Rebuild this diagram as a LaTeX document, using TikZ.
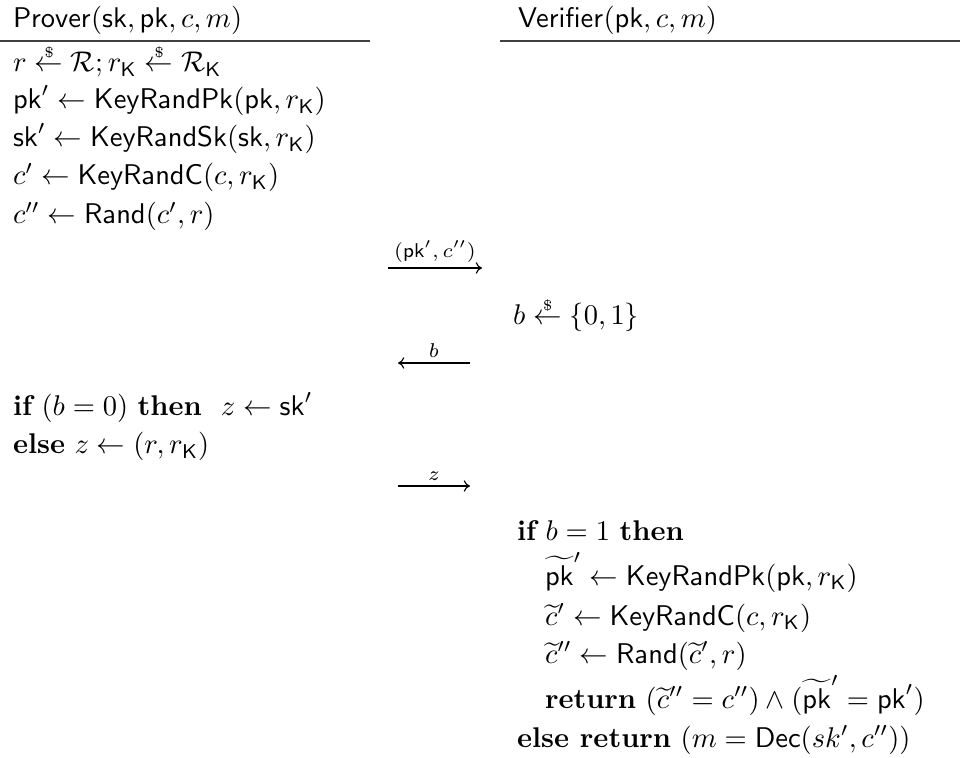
\documentclass[tikz,border=0pt]{standalone}
\usepackage{amsmath,amssymb}
\usetikzlibrary{arrows.meta}
\newcommand{\msf}[1]{\mathsf{#1}}
\newcommand{\smp}{\mathrel{\rlap{\hspace{3.4pt}\raisebox{5.2pt}{$\scriptscriptstyle\$$}}{\leftarrow}}}
\begin{document}
\begin{tikzpicture}[x=0.3509pt,y=-0.3509pt,
  txt/.style={anchor=base west,inner sep=0pt,outer sep=0pt},
  rule/.style={line width=0.5pt,draw=black!75},
  msg/.style={line width=0.4pt,-{To[length=2.2pt,width=4pt]}},
  lbl/.style={above,inner sep=1.8pt,font=\scriptsize}]
\useasboundingbox (0,0) rectangle (960,758);
% headers
\node[txt] (prov) at (13,28) {$\msf{Prover}(\msf{sk},\msf{pk},c,m)$};
\node[txt] (verif) at (518,28) {$\msf{Verifier}(\msf{pk},c,m)$};
\coordinate (pl1) at (0,41); \coordinate (pl2) at (370,41);
\coordinate (vl1) at (500,41); \coordinate (vl2) at (960,41);
\draw[rule] (pl1) -- (pl2);
\draw[rule] (vl1) -- (vl2);
% prover steps
\node[txt] (p1) at (13,72) {$r \smp \mathcal{R}; r_{\msf{K}} \smp \mathcal{R}_{\msf{K}}$};
\node[txt] (p2) at (13,109) {$\msf{pk}' \leftarrow \msf{KeyRandPk}(\msf{pk},r_{\msf{K}})$};
\node[txt] (p3) at (13,147) {$\msf{sk}' \leftarrow \msf{KeyRandSk}(\msf{sk},r_{\msf{K}})$};
\node[txt] (p4) at (13,185) {$c' \leftarrow \msf{KeyRandC}(c,r_{\msf{K}})$};
\node[txt] (p5) at (13,224) {$c'' \leftarrow \msf{Rand}(c',r)$};
\node[txt] (p6) at (13,416) {$\textbf{if}\ (b=0)\ \textbf{then}\ \ z \leftarrow \msf{sk}'$};
\node[txt] (p7) at (13,454) {$\textbf{else}\ z \leftarrow (r,r_{\msf{K}})$};
% verifier steps
\node[txt] (v1) at (513,325) {$b \smp \{0,1\}$};
\node[txt] (v2) at (517,540) {$\textbf{if}\ b=1\ \textbf{then}$};
\node[txt] (v3) at (545,585) {$\widetilde{\msf{pk}}' \leftarrow \msf{KeyRandPk}(\msf{pk},r_{\msf{K}})$};
\node[txt] (v4) at (545,625) {$\widetilde{c}' \leftarrow \msf{KeyRandC}(c,r_{\msf{K}})$};
\node[txt] (v5) at (545,663) {$\widetilde{c}'' \leftarrow \msf{Rand}(\widetilde{c}',r)$};
\node[txt] (v6) at (545,708) {$\textbf{return}\ (\widetilde{c}''=c'')\wedge(\widetilde{\msf{pk}}'=\msf{pk}')$};
\node[txt] (v7) at (517,747) {$\textbf{else return}\ (m=\msf{Dec}(sk',c''))$};
% messages
\coordinate (a1s) at (388,268); \coordinate (a1e) at (482,268);
\coordinate (a2s) at (470,363); \coordinate (a2e) at (398,363);
\coordinate (a3s) at (398,486); \coordinate (a3e) at (470,486);
\draw[msg] (a1s) -- node[lbl] (m1) {$(\msf{pk}',c'')$} (a1e);
\draw[msg] (a2s) -- node[lbl] (m2) {$b$} (a2e);
\draw[msg] (a3s) -- node[lbl] (m3) {$z$} (a3e);
\end{tikzpicture}
\end{document}
